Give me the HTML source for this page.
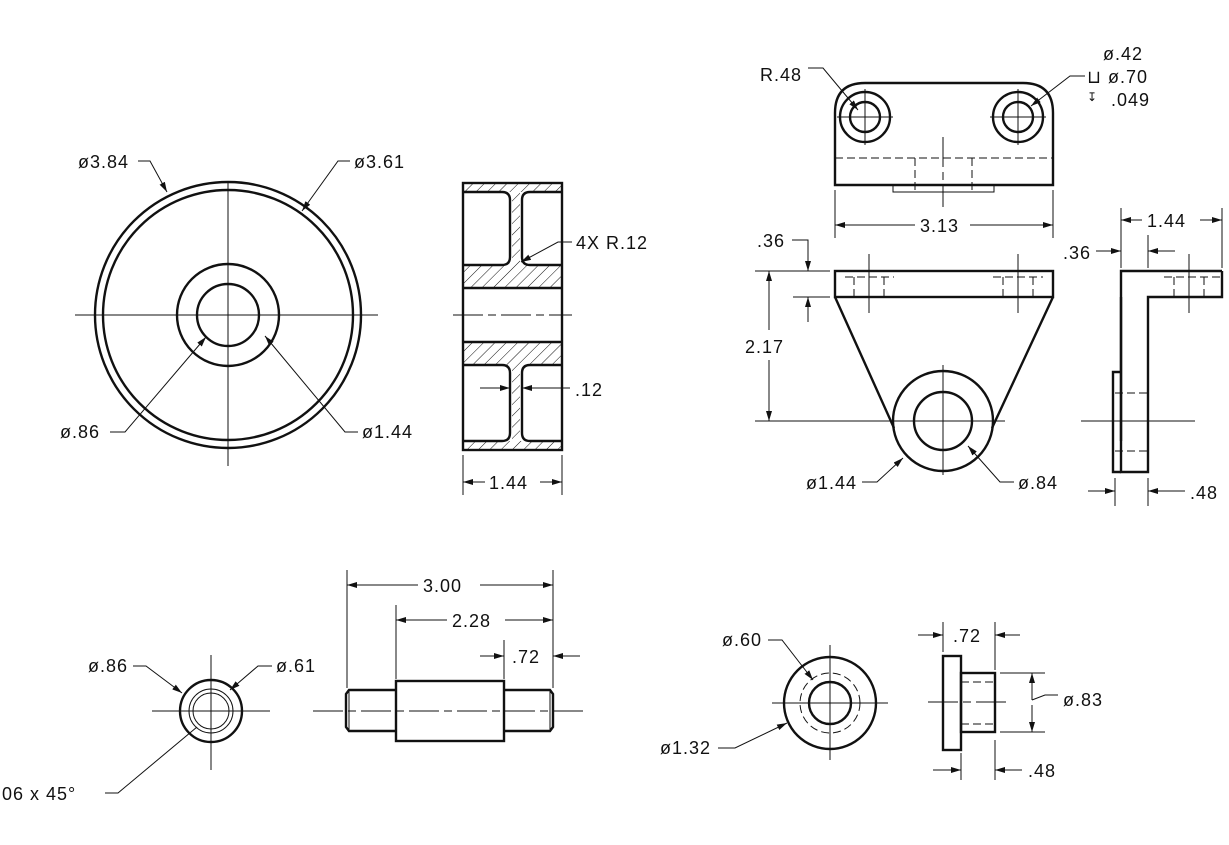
<!DOCTYPE html>
<html><head><meta charset="utf-8"><style>
html,body{margin:0;padding:0;background:#fff}
svg{display:block}
text{font-family:"Liberation Sans","DejaVu Sans",sans-serif;font-size:18px;fill:#111;letter-spacing:1px}
.k{stroke:#111;stroke-width:2.4;fill:none}
.t{stroke:#111;stroke-width:1;fill:none}
.d{stroke:#111;stroke-width:1;fill:none;stroke-dasharray:8 4}
.c{stroke:#111;stroke-width:1;fill:none;stroke-dasharray:30 5 8 5}
</style></head><body>
<svg width="1229" height="845" viewBox="0 0 1229 845" xmlns="http://www.w3.org/2000/svg">
<defs>
<marker id="a" viewBox="0 0 10 6" refX="10" refY="3" markerWidth="10" markerHeight="6" orient="auto-start-reverse" markerUnits="userSpaceOnUse"><path d="M0,0 L10,3 L0,6z" fill="#111"/></marker>
<pattern id="h" width="8" height="8" patternUnits="userSpaceOnUse" patternTransform="rotate(45)"><line x1="0" y1="0" x2="0" y2="8" stroke="#111" stroke-width="1"/></pattern>
</defs>

<!-- Wheel front -->
<circle class="k" cx="228" cy="315" r="133"/>
<circle class="k" cx="228" cy="315" r="125"/>
<circle class="k" cx="228" cy="315" r="51"/>
<circle class="k" cx="228" cy="315" r="31"/>
<line class="t" x1="75" y1="315" x2="378" y2="315"/>
<line class="t" x1="228" y1="182" x2="228" y2="466"/>
<text x="78" y="168">ø3.84</text>
<polyline class="t" points="138,161 150,161 167,192" marker-end="url(#a)"/>
<text x="354" y="168">ø3.61</text>
<polyline class="t" points="350,161 338,161 302,211" marker-end="url(#a)"/>
<text x="60" y="438">ø.86</text>
<polyline class="t" points="110,432 125,432 206,337" marker-end="url(#a)"/>
<text x="362" y="438">ø1.44</text>
<polyline class="t" points="358,432 345,432 265,336" marker-end="url(#a)"/>

<!-- Wheel section -->
<rect x="463" y="183" width="99" height="9" fill="url(#h)"/>
<rect x="463" y="441" width="99" height="9" fill="url(#h)"/>
<rect x="463" y="265" width="99" height="23" fill="url(#h)"/>
<rect x="463" y="342" width="99" height="23" fill="url(#h)"/>
<rect x="512" y="192" width="8" height="73" fill="url(#h)"/>
<rect x="512" y="365" width="8" height="76" fill="url(#h)"/>
<rect class="k" x="463" y="183" width="99" height="267"/>
<path class="k" d="M463,192 H502 Q510,192 510,200 V257 Q510,265 502,265 H463"/>
<path class="k" d="M562,192 H530 Q522,192 522,200 V257 Q522,265 530,265 H562"/>
<path class="k" d="M463,365 H502 Q510,365 510,373 V433 Q510,441 502,441 H463"/>
<path class="k" d="M562,365 H530 Q522,365 522,373 V433 Q522,441 530,441 H562"/>
<line class="k" x1="463" y1="288" x2="562" y2="288"/>
<line class="k" x1="463" y1="342" x2="562" y2="342"/>
<line class="c" x1="453" y1="315" x2="572" y2="315"/>
<text x="576" y="249">4X  R.12</text>
<polyline class="t" points="572,242 558,242 521,262" marker-end="url(#a)"/>
<text x="575" y="396">.12</text>
<line class="t" x1="480" y1="388" x2="510" y2="388" marker-end="url(#a)"/>
<line class="t" x1="570" y1="388" x2="522" y2="388" marker-end="url(#a)"/>
<line class="t" x1="463" y1="455" x2="463" y2="495"/>
<line class="t" x1="562" y1="455" x2="562" y2="495"/>
<line class="t" x1="485" y1="482" x2="463" y2="482" marker-end="url(#a)"/>
<line class="t" x1="540" y1="482" x2="562" y2="482" marker-end="url(#a)"/>
<text x="489" y="489">1.44</text>

<!-- Bracket top view -->
<path class="k" d="M835,185 V113 Q835,83 865,83 H1023 Q1053,83 1053,113 V185 Z"/>
<circle class="k" cx="865" cy="117" r="25"/><circle class="k" cx="865" cy="117" r="15"/>
<circle class="k" cx="1018" cy="117" r="25"/><circle class="k" cx="1018" cy="117" r="15"/>
<line class="t" x1="837" y1="117" x2="893" y2="117"/><line class="t" x1="865" y1="89" x2="865" y2="145"/>
<line class="t" x1="990" y1="117" x2="1046" y2="117"/><line class="t" x1="1018" y1="89" x2="1018" y2="145"/>
<line class="d" x1="835" y1="158" x2="1053" y2="158"/>
<rect class="t" x="893" y="185" width="101" height="7" stroke-width="1.6"/>
<line class="d" x1="915" y1="158" x2="915" y2="192"/>
<line class="d" x1="972" y1="158" x2="972" y2="192"/>
<line class="c" x1="943" y1="137" x2="943" y2="207"/>
<text x="760" y="81">R.48</text>
<polyline class="t" points="808,68 823,68 858,110" marker-end="url(#a)"/>
<text x="1103" y="60">ø.42</text>
<text x="1087" y="83">⊔ ø.70</text>
<text x="1087" y="101" style="font-size:12px">↧</text>
<text x="1111" y="106">.049</text>
<polyline class="t" points="1085,76 1070,76 1031,106" marker-end="url(#a)"/>
<line class="t" x1="835" y1="190" x2="835" y2="238"/>
<line class="t" x1="1053" y1="190" x2="1053" y2="238"/>
<line class="t" x1="915" y1="225" x2="835" y2="225" marker-end="url(#a)"/>
<line class="t" x1="970" y1="225" x2="1053" y2="225" marker-end="url(#a)"/>
<text x="920" y="232">3.13</text>

<!-- Bracket front view -->
<rect class="k" x="835" y="271" width="218" height="26"/>
<path class="k" d="M835,297 L894,428 M1053,297 L992,428"/>
<circle class="k" cx="943" cy="421" r="50"/>
<circle class="k" cx="943" cy="421" r="29"/>
<polyline class="d" points="845,277 894,277"/><line class="d" x1="854" y1="277" x2="854" y2="297"/><line class="d" x1="884" y1="277" x2="884" y2="297"/>
<polyline class="d" points="993,277 1043,277"/><line class="d" x1="1003" y1="277" x2="1003" y2="297"/><line class="d" x1="1033" y1="277" x2="1033" y2="297"/>
<line class="t" x1="869" y1="254" x2="869" y2="313"/>
<line class="t" x1="1018" y1="254" x2="1018" y2="313"/>
<line class="t" x1="880" y1="421" x2="1005" y2="421"/>
<line class="t" x1="943" y1="365" x2="943" y2="475"/>
<text x="757" y="247">.36</text>
<polyline class="t" points="792,240 808,240 808,271" marker-end="url(#a)"/>
<line class="t" x1="808" y1="322" x2="808" y2="297" marker-end="url(#a)"/>
<line class="t" x1="755" y1="271" x2="830" y2="271"/>
<line class="t" x1="793" y1="297" x2="830" y2="297"/>
<line class="t" x1="769" y1="330" x2="769" y2="271" marker-end="url(#a)"/>
<line class="t" x1="769" y1="360" x2="769" y2="421" marker-end="url(#a)"/>
<text x="745" y="353">2.17</text>
<line class="t" x1="755" y1="421" x2="890" y2="421"/>
<text x="806" y="489">ø1.44</text>
<polyline class="t" points="862,482 877,482 903,458" marker-end="url(#a)"/>
<text x="1018" y="489">ø.84</text>
<polyline class="t" points="1014,482 1000,482 968,446" marker-end="url(#a)"/>

<!-- Bracket side view -->
<polyline class="k" points="1222,271 1121,271 1121,472 1148,472 1148,297 1222,297 1222,271"/>
<polyline class="k" points="1121,372 1113,372 1113,472 1121,472"/>
<line class="k" x1="1121" y1="297" x2="1121" y2="441"/>
<line class="d" x1="1115" y1="393" x2="1148" y2="393"/>
<line class="d" x1="1115" y1="451" x2="1148" y2="451"/>
<polyline class="d" points="1164,277 1222,277"/><line class="d" x1="1174" y1="277" x2="1174" y2="297"/><line class="d" x1="1204" y1="277" x2="1204" y2="297"/>
<line class="t" x1="1189" y1="254" x2="1189" y2="313"/>
<line class="t" x1="1081" y1="421" x2="1195" y2="421"/>
<line class="t" x1="1121" y1="208" x2="1121" y2="268"/>
<line class="t" x1="1148" y1="235" x2="1148" y2="268"/>
<line class="t" x1="1222" y1="208" x2="1222" y2="268"/>
<line class="t" x1="1142" y1="220" x2="1121" y2="220" marker-end="url(#a)"/>
<line class="t" x1="1200" y1="220" x2="1222" y2="220" marker-end="url(#a)"/>
<text x="1147" y="227">1.44</text>
<text x="1063" y="259">.36</text>
<line class="t" x1="1096" y1="251" x2="1121" y2="251" marker-end="url(#a)"/>
<line class="t" x1="1175" y1="251" x2="1148" y2="251" marker-end="url(#a)"/>
<line class="t" x1="1115" y1="478" x2="1115" y2="506"/>
<line class="t" x1="1148" y1="478" x2="1148" y2="506"/>
<line class="t" x1="1088" y1="491" x2="1115" y2="491" marker-end="url(#a)"/>
<line class="t" x1="1185" y1="491" x2="1148" y2="491" marker-end="url(#a)"/>
<text x="1190" y="499">.48</text>

<!-- Pin end view -->
<circle class="k" cx="211" cy="711" r="31"/>
<circle class="t" cx="211" cy="711" r="22"/>
<circle class="t" cx="211" cy="711" r="18"/>
<line class="t" x1="152" y1="711" x2="270" y2="711"/>
<line class="t" x1="211" y1="655" x2="211" y2="770"/>
<text x="88" y="672">ø.86</text>
<polyline class="t" points="133,666 146,666 182,693" marker-end="url(#a)"/>
<text x="276" y="672">ø.61</text>
<polyline class="t" points="272,666 258,666 230,690" marker-end="url(#a)"/>
<text x="-4" y="800">.06  x  45°</text>
<polyline class="t" points="105,793 118,793 197,727"/>

<!-- Pin side -->
<path class="k" d="M396,690 H349 L346,694 V727 L349,731 H396"/>
<path class="k" d="M504,690 H550 L553,694 V727 L550,731 H504"/>
<line class="t" x1="349" y1="690" x2="349" y2="731"/><line class="t" x1="550" y1="690" x2="550" y2="731"/>
<rect class="k" x="396" y="681" width="108" height="60"/>
<line class="c" x1="313" y1="711" x2="585" y2="711"/>
<line class="t" x1="347" y1="570" x2="347" y2="688"/>
<line class="t" x1="553" y1="570" x2="553" y2="688"/>
<line class="t" x1="396" y1="605" x2="396" y2="679"/>
<line class="t" x1="504" y1="640" x2="504" y2="679"/>
<line class="t" x1="418" y1="585" x2="347" y2="585" marker-end="url(#a)"/>
<line class="t" x1="480" y1="585" x2="553" y2="585" marker-end="url(#a)"/>
<text x="423" y="592">3.00</text>
<line class="t" x1="447" y1="620" x2="396" y2="620" marker-end="url(#a)"/>
<line class="t" x1="505" y1="620" x2="553" y2="620" marker-end="url(#a)"/>
<text x="452" y="627">2.28</text>
<line class="t" x1="480" y1="656" x2="504" y2="656" marker-end="url(#a)"/>
<line class="t" x1="580" y1="656" x2="553" y2="656" marker-end="url(#a)"/>
<text x="512" y="663">.72</text>

<!-- Bushing end -->
<circle class="k" cx="830" cy="703" r="46"/>
<circle class="d" cx="830" cy="703" r="30"/>
<circle class="k" cx="830" cy="703" r="21"/>
<line class="t" x1="772" y1="703" x2="888" y2="703"/>
<line class="t" x1="830" y1="645" x2="830" y2="760"/>
<text x="722" y="646">ø.60</text>
<polyline class="t" points="768,640 782,640 813,680" marker-end="url(#a)"/>
<text x="660" y="754">ø1.32</text>
<polyline class="t" points="718,748 735,748 787,723" marker-end="url(#a)"/>

<!-- Bushing side -->
<rect class="k" x="943" y="656" width="18" height="94"/>
<rect class="k" x="961" y="673" width="34" height="59"/>
<line class="d" x1="961" y1="682" x2="995" y2="682"/>
<line class="d" x1="961" y1="724" x2="995" y2="724"/>
<line class="c" x1="928" y1="702" x2="1010" y2="702"/>
<line class="t" x1="943" y1="622" x2="943" y2="652"/>
<line class="t" x1="995" y1="622" x2="995" y2="670"/>
<line class="t" x1="918" y1="635" x2="943" y2="635" marker-end="url(#a)"/>
<line class="t" x1="1020" y1="635" x2="995" y2="635" marker-end="url(#a)"/>
<text x="953" y="642">.72</text>
<line class="t" x1="1000" y1="673" x2="1045" y2="673"/>
<line class="t" x1="1000" y1="732" x2="1045" y2="732"/>
<line class="t" x1="1032" y1="700" x2="1032" y2="673" marker-end="url(#a)"/>
<line class="t" x1="1032" y1="705" x2="1032" y2="732" marker-end="url(#a)"/>
<polyline class="t" points="1032,700 1045,695 1058,695"/>
<text x="1063" y="706">ø.83</text>
<line class="t" x1="961" y1="753" x2="961" y2="780"/>
<line class="t" x1="995" y1="740" x2="995" y2="780"/>
<line class="t" x1="933" y1="770" x2="961" y2="770" marker-end="url(#a)"/>
<line class="t" x1="1022" y1="770" x2="995" y2="770" marker-end="url(#a)"/>
<text x="1028" y="777">.48</text>
</svg>
</body></html>
